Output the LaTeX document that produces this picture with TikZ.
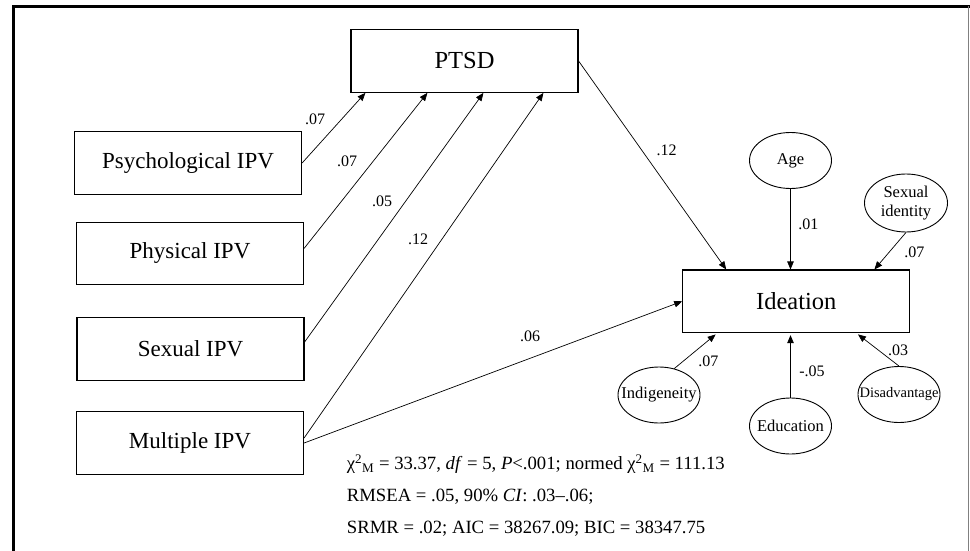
\documentclass[tikz,border=0pt]{standalone}
\usepackage{fontspec}
\setmainfont{Liberation Serif}
\usetikzlibrary{arrows.meta,shapes.geometric}
\tikzset{
	box/.style={draw,rectangle,line width=1.2pt,minimum width=227pt,minimum height=62.5pt,inner sep=0pt,font=\fontsize{23}{27}\selectfont},
	mainbox/.style={box,font=\fontsize{24.5}{29}\selectfont},
	covar/.style={draw,ellipse,line width=0.9pt,minimum width=82pt,minimum height=56pt,inner sep=0pt,align=center,font=\fontsize{16.5}{19}\selectfont},
	coef/.style={inner sep=0pt,font=\fontsize{16}{18}\selectfont},
	arr/.style={-{Triangle[length=8pt,width=6.5pt]},line width=0.7pt}
}

\begin{document}
\begin{tikzpicture}[x=1pt,y=1pt]
			\useasboundingbox (0,0) rectangle (970,-551);
			\draw[line width=3pt] (13.5,-551) -- (13.5,-6.5) -- (969.5,-6.5);
			\draw[gray,line width=1pt] (968.5,-6.5) -- (968.5,-551);

			\node[mainbox] (ptsd) at (464.5,-61) {PTSD};
			\node[box] (psych) at (188,-163) {Psychological IPV};
			\node[box] (phys) at (190,-253.4) {Physical IPV};
			\node[box] (sex) at (190.5,-349) {Sexual IPV};
			\node[box] (multi) at (190,-443) {Multiple IPV};
			\node[mainbox] (ideation) at (796.3,-301.3) {Ideation};

			\node[covar] (age) at (790.5,-160.5) {\makebox[0pt]{Age}};
			\node[covar,minimum width=83pt,minimum height=58pt] (sexid) at (906,-203) {Sexual\\identity};
			\node[covar] (indig) at (659,-395) {\makebox[0pt]{Indigeneity}};
			\node[covar] (edu) at (790.5,-426) {\makebox[0pt]{Education}};
			\node[covar,font=\fontsize{14.5}{17}\selectfont] (disadv) at (899,-394.5) {\makebox[0pt]{Disadvantage}};

			\draw[arr] (psych.east) -- ([xshift=15pt]ptsd.south west);
			\draw[arr] ([yshift=5pt]phys.east) -- ([xshift=77pt]ptsd.south west);
			\draw[arr] ([yshift=7pt]sex.east) -- ([xshift=133pt]ptsd.south west);
			\draw[arr] ([yshift=5pt]multi.east) -- ([xshift=193pt]ptsd.south west);
			\draw[arr] (multi.east) -- (ideation.west);
			\draw[arr] (ptsd.east) -- ([xshift=44pt]ideation.north west);
			\draw[arr] (age) -- (age |- ideation.north);
			\draw[arr] (sexid.south) -- ([xshift=-36pt]ideation.north east);
			\draw[arr,shorten >=2pt] (indig.60) -- ([xshift=35pt]ideation.south west);
			\draw[arr,shorten >=2pt] (edu) -- (edu |- ideation.south);
			\draw[arr,shorten >=2pt] (disadv.north) -- ([xshift=-54pt]ideation.south east);

			\node[coef] (b-psych) at (315,-119) {.07};
			\node[coef] (b-phys) at (347,-161) {.07};
			\node[coef] (b-sex) at (382,-201) {.05};
			\node[coef] (b-multi) at (418,-239) {.12};
			\node[coef] (b-ptsd) at (666.7,-150.8) {.12};
			\node[coef] (b-age) at (808.3,-224) {.01};
			\node[coef] (b-sexid) at (914.3,-252.5) {.07};
			\node[coef] (b-direct) at (530,-335.8) {.06};
			\node[coef] (b-indig) at (708.3,-360.8) {.07};
			\node[coef] (b-edu) at (812,-371) {-.05};
			\node[coef] (b-disadv) at (898,-350) {.03};

			\node[anchor=base west,align=left,inner sep=0pt,font=\fontsize{18.7}{31.7}\selectfont] (fitstats) at (346.7,-533) {χ\textsuperscript{2}\textsubscript{M} = 33.37, \textit{df} = 5, \textit{P}<.001; normed χ\textsuperscript{2}\textsubscript{M} = 111.13\\RMSEA = .05, 90\% \textit{CI}: .03–.06;\\SRMR = .02; AIC = 38267.09; BIC = 38347.75};
		\end{tikzpicture}
\end{document}
